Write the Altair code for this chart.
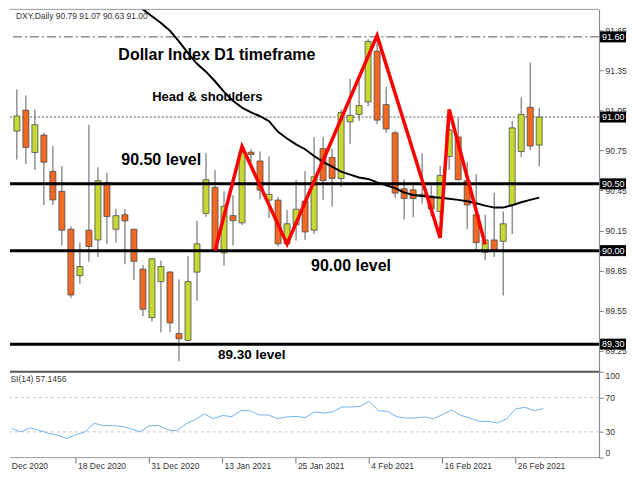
import altair as alt
import pandas as pd

# ---------------- data ----------------
dates = ["2020-12-09", "2020-12-10", "2020-12-11", "2020-12-14", "2020-12-15", "2020-12-16",
         "2020-12-17", "2020-12-18", "2020-12-21", "2020-12-22", "2020-12-23", "2020-12-24",
         "2020-12-28", "2020-12-29", "2020-12-30", "2020-12-31", "2021-01-04", "2021-01-05",
         "2021-01-06", "2021-01-07", "2021-01-08", "2021-01-11", "2021-01-12", "2021-01-13",
         "2021-01-14", "2021-01-15", "2021-01-18", "2021-01-19", "2021-01-20", "2021-01-21",
         "2021-01-22", "2021-01-25", "2021-01-26", "2021-01-27", "2021-01-28", "2021-01-29",
         "2021-02-01", "2021-02-02", "2021-02-03", "2021-02-04", "2021-02-05", "2021-02-08",
         "2021-02-09", "2021-02-10", "2021-02-11", "2021-02-12", "2021-02-15", "2021-02-16",
         "2021-02-17", "2021-02-18", "2021-02-19", "2021-02-22", "2021-02-23", "2021-02-24",
         "2021-02-25", "2021-02-26", "2021-03-01", "2021-03-02", "2021-03-03"]

opens = [90.895, 91.052, 90.735, 90.865, 90.593, 90.444, 90.160, 89.813, 90.153, 90.080,
         90.509, 90.160, 90.269, 90.160, 89.862, 89.498, 89.768, 89.840, 89.379, 89.328,
         89.839, 90.279, 90.473, 89.983, 90.262, 90.208, 90.737, 90.671, 90.378, 90.378,
         90.051, 90.193, 90.371, 90.153, 90.764, 90.698, 90.540, 90.964, 91.020, 91.113,
         91.493, 91.093, 90.882, 90.463, 90.455, 90.406, 90.409, 90.293, 90.705, 90.851,
         90.524, 90.269, 89.988, 90.080, 90.070, 90.342, 90.742, 91.073, 90.790]
highs = [91.207, 91.162, 91.055, 90.880, 90.783, 90.633, 90.182, 90.060, 90.943, 90.624,
         90.582, 90.313, 90.311, 90.165, 89.891, 89.944, 89.926, 89.845, 89.784, 89.961,
         90.225, 90.729, 90.604, 90.444, 90.415, 90.773, 90.760, 90.742, 90.705, 90.402,
         90.303, 90.529, 90.596, 90.851, 90.851, 90.764, 91.057, 91.287, 91.311, 91.583,
         91.606, 91.226, 90.899, 90.535, 90.487, 90.729, 90.489, 90.633, 91.049, 90.991,
         90.662, 90.572, 90.269, 90.433, 90.293, 90.972, 91.146, 91.408, 91.070]
lows = [90.681, 90.649, 90.604, 90.342, 90.342, 90.039, 89.644, 89.753, 89.917, 89.953,
        90.051, 90.060, 89.898, 89.780, 89.510, 89.469, 89.388, 89.389, 89.171, 89.324,
        89.626, 90.253, 89.990, 89.888, 90.039, 90.191, 90.660, 90.384, 90.244, 90.031,
        90.044, 90.075, 90.080, 90.124, 90.378, 90.329, 90.475, 90.797, 90.972, 91.081,
        90.948, 90.880, 90.395, 90.233, 90.249, 90.353, 90.257, 90.239, 90.604, 90.524,
        90.160, 89.990, 89.927, 89.953, 89.664, 90.124, 90.700, 90.753, 90.630]
closes = [91.008, 90.773, 90.943, 90.662, 90.380, 90.153, 89.668, 89.881, 90.031, 90.524,
          90.255, 90.262, 90.223, 89.920, 89.561, 89.939, 89.881, 89.459, 89.340, 89.768,
          90.051, 90.531, 90.002, 90.332, 90.224, 90.737, 90.720, 90.453, 90.422, 90.051,
          90.201, 90.310, 90.140, 90.553, 90.524, 90.540, 91.033, 91.013, 91.086, 91.566,
          90.977, 90.911, 90.431, 90.390, 90.390, 90.422, 90.313, 90.562, 90.904, 90.531,
          90.342, 90.060, 90.080, 90.007, 90.201, 90.919, 91.020, 90.783, 91.000]

ma_first = 13
ma_values = [91.864, 91.806, 91.755, 91.704, 91.646, 91.566, 91.478, 91.398, 91.340, 91.268,
             91.188, 91.122, 91.071, 91.035, 91.006, 90.969, 90.889, 90.839, 90.795, 90.759,
             90.708, 90.664, 90.628, 90.591, 90.569, 90.548, 90.537, 90.511, 90.489, 90.468,
             90.435, 90.417, 90.409, 90.402, 90.395, 90.388, 90.380, 90.369, 90.355, 90.337,
             90.322, 90.322, 90.340, 90.362, 90.380, 90.397]

rsi_values = [33.9, 30.1, 34.7, 31.6, 28.4, 26.1, 22.3, 26.9, 30.1, 40.0,
              37.3, 37.3, 36.5, 33.5, 30.1, 37.3, 37.3, 32.4, 31.2, 39.3,
              44.3, 50.9, 45.4, 49.2, 47.7, 54.7, 54.7, 49.7, 49.7, 45.4,
              47.4, 48.1, 46.6, 53.2, 52.0, 53.2, 59.0, 59.0, 59.7, 65.4,
              54.7, 53.9, 47.7, 46.2, 46.2, 47.4, 45.4, 50.1, 55.5, 49.2,
              46.2, 42.3, 42.3, 40.5, 45.1, 57.0, 58.5, 54.7, 57.1456]

zigzag_idx = [22, 25, 30, 40, 47, 48, 52]
zigzag_price = [90.00, 90.78, 90.05, 91.61, 90.095, 91.057, 90.046]

support_levels = [90.50, 90.00, 89.30]
marked_levels = [91.60, 91.00, 90.50, 90.00, 89.30]
price_ticks = [89.25, 89.55, 89.85, 90.15, 90.45, 90.75, 91.05, 91.35, 91.65]
rsi_ticks = [0, 30, 70, 100]
rsi_grid = [30, 70]
date_tick_idx = [-1, 7, 15, 23, 31, 39, 47, 55]
date_tick_labels = ["8 Dec 2020", "18 Dec 2020", "31 Dec 2020", "13 Jan 2021",
                    "25 Jan 2021", "4 Feb 2021", "16 Feb 2021", "26 Feb 2021"]
header_text = "DXY,Daily  90.79 91.07 90.63 91.00"
rsi_caption = "RSI(14) 57.1456"
annotation_texts = ["Dollar Index D1 timeframe", "Head & shoulders",
                    "90.50 level", "90.00 level", "89.30 level"]

# ---------------- layout / style ----------------
W, HM, HR, HS = 590, 363, 86, 15
FONT = "Liberation Sans"
BULL, BEAR = "#c6d834", "#f06822"

xs = alt.Scale(domain=[-0.209, 64.09], nice=False, zero=False)
ys = alt.Scale(domain=[89.093, 91.806], nice=False, zero=False)
rs = alt.Scale(domain=[0, 100], nice=False, zero=False)
X = alt.X("i:Q", scale=xs, axis=None)

price_axis = alt.Axis(orient="right", values=price_ticks, format=".2f", labelFont=FONT,
                      labelFontSize=8.5, labelColor="#333333", tickColor="#808080",
                      tickSize=4, domainColor="#808080", labelPadding=2, grid=False,
                      title=None)
rsi_axis = alt.Axis(orient="right", values=rsi_ticks, format="d", labelFlush=True,
                    labelFont=FONT, labelFontSize=8.5, labelColor="#333333",
                    tickColor="#808080", tickSize=4, domainColor="#808080",
                    labelPadding=2, grid=False, title=None)


def PY(field):
    return alt.Y(field, scale=ys, axis=price_axis)


def RY(field):
    return alt.Y(field, scale=rs, axis=rsi_axis)


cdf = pd.DataFrame({"i": list(range(len(dates))), "date": dates, "open": opens,
                    "high": highs, "low": lows, "close": closes})
cdf["dir"] = ["up" if c >= o else "down" for o, c in zip(opens, closes)]

wicks = alt.Chart(cdf).mark_rule(color="#5c5c5c", strokeWidth=1).encode(
    x=X, y=PY("low:Q"), y2="high:Q")
bodies = alt.Chart(cdf).mark_bar(size=6, stroke="#4d4d4d", strokeWidth=0.8).encode(
    x=X, y=PY("open:Q"), y2="close:Q",
    color=alt.Color("dir:N", scale=alt.Scale(domain=["up", "down"], range=[BULL, BEAR]),
                    legend=None))


def level_rule(vals, **kw):
    return alt.Chart(pd.DataFrame({"level": vals})).mark_rule(**kw).encode(y=PY("level:Q"))


dashdot = level_rule([marked_levels[0]], color="#555555", strokeWidth=1, strokeDash=[9, 3, 2, 3])
dotted = level_rule([marked_levels[1]], color="#555555", strokeWidth=1, strokeDash=[2, 2])
supports = level_rule(support_levels, color="black", strokeWidth=3)

madf = pd.DataFrame({"i": list(range(ma_first, ma_first + len(ma_values))), "ma": ma_values})
ma_line = alt.Chart(madf).mark_line(color="black", strokeWidth=2, clip=True).encode(
    x=X, y=PY("ma:Q"))

zz = alt.Chart(pd.DataFrame({"i": zigzag_idx, "p": zigzag_price})).mark_line(
    color="#ff0000", strokeWidth=3.5, strokeJoin="miter").encode(
    x=X, y=PY("p:Q"), order="i:Q")

ann = pd.DataFrame({"t": annotation_texts,
                    "i": [11.27, 15.03, 11.59, 32.67, 22.34],
                    "p": [91.464, 91.148, 90.675, 89.886, 89.217],
                    "fs": [16, 13, 16, 16, 13.5]})
annot = alt.Chart(ann).mark_text(align="left", baseline="middle", font=FONT,
                                 fontWeight="bold", color="black").encode(
    x=X, y=PY("p:Q"), text="t:N", size=alt.Size("fs:Q", scale=None, legend=None))

hdr = alt.Chart(pd.DataFrame({"t": [header_text], "i": [-0.1], "p": [91.76]})).mark_text(
    align="left", baseline="middle", font=FONT, fontSize=8.5, color="#333333", clip=True).encode(
    x=X, y=PY("p:Q"), text="t:N")

bdf = pd.DataFrame({"level": marked_levels, "label": [f"{v:.2f}" for v in marked_levels]})
boxes = alt.Chart(bdf).mark_rule(color="black", strokeWidth=11).encode(
    y=PY("level:Q"), x=alt.value(W + 1), x2=alt.value(W + 27))
box_txt = alt.Chart(bdf).mark_text(align="left", baseline="middle", font=FONT,
                                   fontSize=9, color="white").encode(
    y=PY("level:Q"), x=alt.value(W + 3), text="label:N")

frame_df = pd.DataFrame({"k": [0]})
top_rule = alt.Chart(frame_df).mark_rule(color="#999999", strokeWidth=1).encode(y=alt.value(0))
sep_rule = alt.Chart(frame_df).mark_rule(color="#555555", strokeWidth=2).encode(y=alt.value(HM))

main = alt.layer(wicks, dashdot, dotted, bodies, supports, ma_line, zz, annot, hdr,
                 boxes, box_txt, top_rule, sep_rule).properties(width=W, height=HM)

# ---------------- RSI panel ----------------
rgrid = alt.Chart(pd.DataFrame({"v": rsi_grid})).mark_rule(
    color="#c8c8c8", strokeDash=[3, 3]).encode(y=RY("v:Q"))
rdf = pd.DataFrame({"i": list(range(len(rsi_values))), "rsi": rsi_values})
rline = alt.Chart(rdf).mark_line(color="#6db3f2", strokeWidth=1).encode(x=X, y=RY("rsi:Q"))
rcap = alt.Chart(pd.DataFrame({"t": [rsi_caption], "i": [-0.835], "v": [91.7]})).mark_text(
    align="left", baseline="middle", font=FONT, fontSize=8.5, color="#333333", clip=True).encode(
    x=X, y=RY("v:Q"), text="t:N")
rbottom = alt.Chart(frame_df).mark_rule(color="#999999", strokeWidth=1).encode(y=alt.value(HR))
rsi = alt.layer(rgrid, rline, rcap, rbottom).properties(width=W, height=HR)

# ---------------- date strip ----------------
sdf = pd.DataFrame({"i": date_tick_idx, "t": date_tick_labels})
sticks = alt.Chart(sdf).mark_rule(color="#777777", clip=True).encode(
    x=X, y=alt.value(0), y2=alt.value(6))
slabels = alt.Chart(sdf).mark_text(align="left", baseline="middle", dx=2, font=FONT,
                                   fontSize=8.5, color="#333333", clip=True).encode(
    x=X, y=alt.value(8), text="t:N")
strip = alt.layer(sticks, slabels).properties(width=W, height=HS)

chart = alt.vconcat(main, rsi, strip, spacing=0, bounds="flush").properties(
    padding=0, background="white").configure_view(stroke="transparent")

chart.save("out.html", embed_options={"renderer": "svg", "actions": False})
